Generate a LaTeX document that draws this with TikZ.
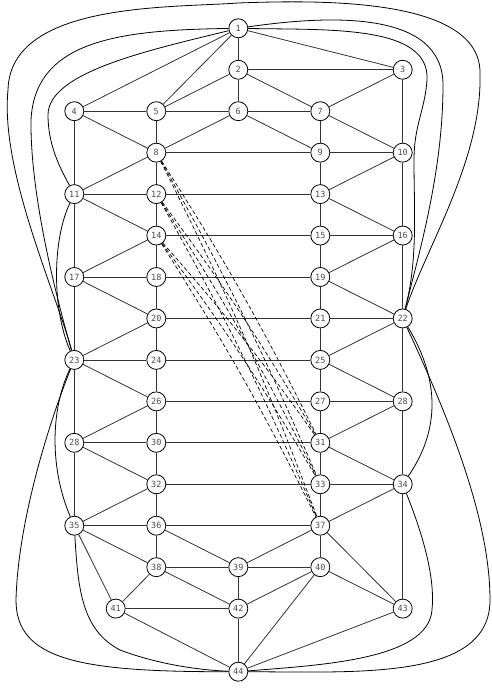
\documentclass[tikz,border=0pt]{standalone}
\usepackage{fontspec}
\newfontfamily\labelfont{DejaVu Sans Mono}
\begin{document}
\begin{tikzpicture}[x=1pt,y=-1pt,
  vtx/.style={circle, draw=black, line width=0.8pt, minimum size=19pt, inner sep=0pt,
    font=\labelfont\fontsize{8.5}{9}\selectfont, text=black!70},
  edge/.style={line width=0.8pt, draw=black!80},
  arc/.style={line width=0.8pt, draw=black},
  dashedge/.style={line width=0.7pt, draw=black, dash pattern=on 4pt off 2.5pt}]
\useasboundingbox (0,0) rectangle (492,691);
\def\cA{74.3}\def\cB{156.3}\def\cC{238.3}\def\cD{320.3}\def\cE{402.7}
% nodes
\node[vtx] (n1) at (\cC,28.3) {1};
\node[vtx] (n2) at (\cC,69.75) {2};
\node[vtx] (n3) at (\cE,69.75) {3};
\node[vtx] (n4) at (\cA,111.2) {4};
\node[vtx] (n5) at (\cB,111.2) {5};
\node[vtx] (n6) at (\cC,111.2) {6};
\node[vtx] (n7) at (\cD,111.2) {7};
\node[vtx] (n8) at (\cB,152.65) {8};
\node[vtx] (n9) at (\cD,152.65) {9};
\node[vtx] (n10) at (\cE,152.65) {10};
\node[vtx] (n11) at (\cA,194.1) {11};
\node[vtx] (n12) at (\cB,194.1) {12};
\node[vtx] (n13) at (\cD,194.1) {13};
\node[vtx] (n14) at (\cB,235.55) {14};
\node[vtx] (n15) at (\cD,235.55) {15};
\node[vtx] (n16) at (\cE,235.55) {16};
\node[vtx] (n17) at (\cA,277.0) {17};
\node[vtx] (n18) at (\cB,277.0) {18};
\node[vtx] (n19) at (\cD,277.0) {19};
\node[vtx] (n20) at (\cB,318.45) {20};
\node[vtx] (n21) at (\cD,318.45) {21};
\node[vtx] (n22) at (\cE,318.45) {22};
\node[vtx] (n23) at (\cA,359.9) {23};
\node[vtx] (n24) at (\cB,359.9) {24};
\node[vtx] (n25) at (\cD,359.9) {25};
\node[vtx] (n26) at (\cB,401.35) {26};
\node[vtx] (n27) at (\cD,401.35) {27};
\node[vtx] (n28) at (\cE,401.35) {28};
\node[vtx] (n29) at (\cA,442.8) {28};
\node[vtx] (n30) at (\cB,442.8) {30};
\node[vtx] (n31) at (\cD,442.8) {31};
\node[vtx] (n32) at (\cB,484.25) {32};
\node[vtx] (n33) at (\cD,484.25) {33};
\node[vtx] (n34) at (\cE,484.25) {34};
\node[vtx] (n35) at (\cA,525.7) {35};
\node[vtx] (n36) at (\cB,525.7) {36};
\node[vtx] (n37) at (\cD,525.7) {37};
\node[vtx] (n38) at (\cB,567.15) {38};
\node[vtx] (n39) at (\cC,567.15) {39};
\node[vtx] (n40) at (\cD,567.15) {40};
\node[vtx] (n41) at (115.7,608.6) {41};
\node[vtx] (n42) at (\cC,608.6) {42};
\node[vtx] (n43) at (\cE,608.6) {43};
\node[vtx] (n44) at (\cC,671.7) {44};
% straight edges
\foreach \a/\b in {1/2,1/3,1/4,1/5,2/3,2/5,2/6,2/7,3/7,3/10,4/5,4/8,4/11,5/6,5/8,6/7,6/8,6/9,
  7/9,7/10,8/9,9/10,8/11,8/12,9/13,10/13,10/16,11/12,11/14,11/17,12/13,12/14,13/15,13/16,
  14/15,14/17,14/18,15/16,15/19,16/19,16/22,17/18,17/20,17/23,18/19,18/20,19/21,19/22,
  20/21,20/23,20/24,21/22,21/25,22/25,22/28,23/24,23/26,23/29,24/25,24/26,25/27,25/28,
  26/27,26/29,26/30,27/28,27/31,28/31,28/34,29/30,29/32,29/35,30/31,30/32,31/33,31/34,
  32/33,32/35,32/36,33/34,33/37,34/37,34/43,35/36,35/38,35/41,36/37,36/38,36/39,37/39,
  37/40,37/43,38/39,38/41,38/42,39/40,39/42,40/42,40/43,40/44,41/42,41/44,42/44,43/44}
  \draw[edge] (n\a) -- (n\b);
% dashed edges
\foreach \a in {8,12,14}
  \foreach \b in {31,33,37}
    \draw[dashedge] (n\a) to[bend left=3] (n\b);
% curved edges, left
\draw[arc] (n1) .. controls (150,50) and (48,72) .. (48,115) .. controls (48,145) and (60,168) .. (n11);
\draw[arc] (n1) .. controls (120,30) and (35,40) .. (31,120) .. controls (30,200) and (60,310) .. (n23);
\draw[arc] (n23) .. controls (55,290) and (0,170) .. (8,90) .. controls (10,2) and (170,8) .. (238,3)
  .. controls (320,0) and (483,-3) .. (480,75) .. controls (482,160) and (425,250) .. (n22);
\draw[arc] (n11) .. controls (52,240) and (52,310) .. (n23);
\draw[arc] (n23) .. controls (50,410) and (50,470) .. (n35);
\draw[arc] (n23) .. controls (50,420) and (18,520) .. (16,600) .. controls (16,660) and (80,672) .. (n44);
\draw[arc] (n35) .. controls (78,590) and (82,630) .. (120,650) .. controls (160,665) and (200,670) .. (n44);
% curved edges, right
\draw[arc] (n1) .. controls (330,15) and (443,10) .. (443,85) .. controls (443,170) and (420,250) .. (n22);
\draw[arc] (n1) .. controls (330,30) and (430,25) .. (427,80) .. controls (425,110) and (414,125) .. (414,160)
  .. controls (414,210) and (418,260) .. (n22);
\draw[arc] (n22) .. controls (440,380) and (440,430) .. (n34);
\draw[arc] (n22) .. controls (450,420) and (490,520) .. (490,600) .. controls (490,680) and (360,672) .. (n44);
\draw[arc] (n34) .. controls (425,540) and (435,580) .. (432,610) .. controls (428,660) and (320,665) .. (n44);
\end{tikzpicture}
\end{document}
